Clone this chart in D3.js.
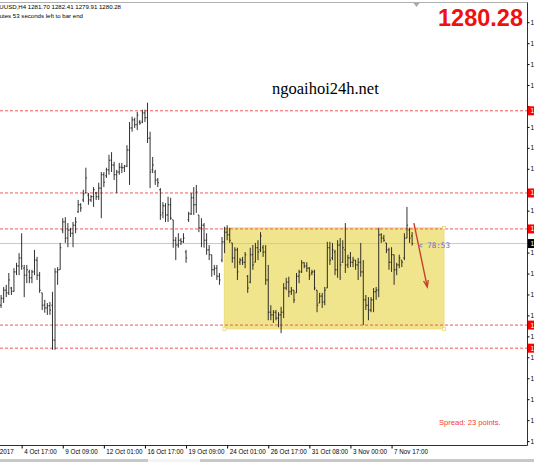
<!DOCTYPE html>
<html><head><meta charset="utf-8">
<script src="https://cdn.jsdelivr.net/npm/d3@7/dist/d3.min.js"></script>
<style>html,body{margin:0;padding:0;background:#fff;overflow:hidden}svg{display:block}</style>
</head><body><svg id="c" width="534" height="462"></svg>
<script>
// ---------- data (XAUUSD, H4) ----------
const opens=[1268.8,1270.1,1271.6,1271.1,1272.0,1271.4,1275.0,1276.1,1277.6,1275.7,
1274.4,1275.0,1273.9,1275.0,1277.2,1274.4,1271.1,1268.8,1268.3,1268.7,
1268.8,1262.3,1275.0,1275.4,1282.8,1284.3,1281.3,1282.8,1282.2,1283.7,
1286.2,1287.5,1288.4,1289.7,1289.3,1288.4,1289.0,1289.7,1289.0,1290.6,
1293.1,1292.9,1294.0,1295.8,1294.9,1293.1,1293.6,1294.5,1294.4,1294.7,
1297.7,1301.8,1303.3,1302.4,1302.9,1302.9,1304.6,1303.7,1299.9,1294.0,
1293.6,1292.1,1290.3,1286.0,1287.3,1285.6,1287.5,1284.7,1280.9,1280.0,
1280.9,1280.6,1278.7,1284.7,1285.8,1288.8,1287.5,1285.6,1283.2,1283.7,
1280.9,1279.1,1278.2,1275.4,1275.7,1274.2,1277.2,1280.6,1282.4,1281.9,
1280.4,1277.6,1279.1,1276.8,1277.2,1276.8,1274.2,1273.1,1278.2,1276.8,
1279.5,1279.1,1279.5,1278.7,1273.5,1267.5,1267.0,1267.5,1266.4,1267.0,
1267.5,1272.0,1273.1,1271.3,1271.6,1271.1,1274.2,1275.0,1276.7,1276.1,
1275.7,1274.8,1275.0,1271.6,1269.2,1270.5,1269.4,1272.0,1279.5,1277.6,
1278.7,1275.4,1280.0,1276.8,1279.1,1276.3,1277.6,1276.8,1277.2,1276.3,
1276.8,1275.0,1269.8,1268.8,1267.9,1269.8,1271.3,1271.6,1281.9,1281.3,
1280.4,1279.1,1276.8,1278.2,1275.4,1276.3,1277.2,1277.6,1281.3,1282.8,
1281.70];
const highs=[1270.7,1272.2,1272.6,1274.8,1272.2,1275.7,1276.7,1278.5,1282.2,1276.3,
1276.3,1275.4,1275.4,1279.1,1277.8,1275.0,1271.1,1269.8,1269.2,1269.4,
1271.3,1275.7,1275.9,1280.4,1285.0,1285.2,1284.1,1283.2,1284.3,1285.2,
1288.4,1287.8,1290.3,1294.4,1289.7,1289.3,1290.8,1289.9,1291.6,1293.6,
1293.6,1294.4,1296.8,1297.3,1295.5,1294.0,1295.3,1295.3,1294.9,1298.6,
1302.9,1303.9,1303.7,1304.8,1303.3,1305.2,1305.2,1306.5,1301.1,1296.4,
1294.0,1292.5,1290.6,1288.0,1287.8,1289.0,1288.8,1284.7,1281.5,1282.2,
1281.3,1282.2,1279.1,1286.2,1289.7,1290.8,1291.2,1285.6,1285.0,1284.1,
1282.2,1280.0,1278.2,1276.3,1276.3,1274.8,1281.5,1283.4,1283.7,1283.2,
1280.4,1279.6,1279.5,1277.6,1277.8,1278.7,1274.4,1279.5,1280.0,1280.4,
1280.9,1282.4,1280.0,1280.0,1276.3,1268.8,1267.9,1267.9,1267.5,1268.5,
1272.9,1273.9,1274.1,1272.2,1271.6,1274.8,1275.4,1277.2,1276.8,1276.8,
1275.9,1275.4,1275.4,1271.6,1271.1,1271.1,1272.2,1280.6,1280.6,1280.4,
1279.1,1280.9,1281.3,1280.9,1284.1,1278.2,1278.7,1277.8,1277.2,1277.6,
1280.4,1277.2,1270.7,1270.3,1270.3,1272.0,1272.2,1283.2,1282.2,1281.9,
1280.4,1279.5,1279.6,1278.2,1276.7,1278.2,1277.2,1282.2,1287.1,1283.2,
1282.41];
const lows=[1268.3,1269.2,1270.3,1270.7,1270.7,1271.3,1274.4,1274.4,1275.4,1270.3,
1272.9,1272.9,1272.9,1274.4,1273.5,1271.1,1267.9,1267.4,1267.0,1267.0,
1260.5,1260.5,1272.6,1275.4,1282.2,1280.4,1279.6,1281.5,1279.6,1282.2,
1286.0,1286.2,1288.0,1289.7,1287.5,1288.0,1287.1,1288.4,1288.4,1285.0,
1290.8,1292.5,1293.1,1293.6,1292.1,1289.7,1293.1,1293.4,1293.6,1294.5,
1291.2,1301.1,1301.8,1301.4,1302.4,1302.7,1302.9,1299.0,1290.6,1293.4,
1291.2,1290.8,1284.7,1285.0,1284.3,1284.3,1284.7,1279.5,1277.2,1279.5,
1280.0,1280.4,1276.7,1284.3,1285.6,1285.6,1286.0,1282.4,1279.6,1279.5,
1278.2,1277.2,1274.1,1274.4,1273.5,1272.6,1276.8,1278.5,1280.9,1280.4,
1276.7,1275.7,1273.5,1276.3,1276.3,1275.7,1271.1,1272.9,1275.4,1276.8,
1277.2,1278.7,1277.8,1272.6,1266.0,1266.0,1265.5,1266.0,1264.7,1263.6,
1266.4,1271.6,1270.3,1270.7,1269.2,1271.1,1272.9,1274.8,1275.7,1275.0,
1273.5,1274.4,1271.6,1267.5,1269.2,1268.3,1268.8,1272.0,1276.3,1277.2,
1274.4,1273.9,1273.5,1276.7,1274.8,1275.7,1275.9,1275.9,1275.4,1273.5,
1274.1,1265.1,1267.9,1266.0,1267.5,1267.5,1269.8,1270.3,1280.4,1280.6,
1278.5,1275.4,1275.0,1272.6,1274.4,1275.7,1275.9,1277.2,1281.3,1280.4,
1279.91];
const closes=[1270.1,1271.6,1271.1,1273.5,1271.4,1275.0,1276.1,1277.6,1276.1,1274.4,
1275.4,1273.9,1275.0,1277.2,1274.4,1271.6,1268.8,1268.3,1268.7,1267.9,
1262.3,1275.0,1275.4,1279.5,1284.3,1281.3,1282.8,1282.2,1283.7,1284.3,
1287.5,1286.9,1289.5,1292.5,1288.4,1289.0,1290.3,1289.0,1290.6,1293.1,
1291.7,1294.0,1295.8,1294.9,1293.1,1293.6,1294.5,1294.4,1294.7,1297.7,
1301.8,1303.3,1302.4,1304.2,1302.7,1304.6,1303.7,1299.9,1293.6,1294.9,
1292.1,1291.6,1285.6,1287.3,1285.6,1287.5,1285.0,1280.9,1280.0,1280.9,
1280.6,1281.3,1277.6,1285.8,1288.8,1287.5,1289.9,1283.2,1283.7,1280.9,
1279.1,1278.2,1275.4,1275.7,1274.2,1273.5,1280.6,1282.4,1281.9,1280.9,
1277.6,1279.1,1275.0,1277.2,1276.8,1278.2,1272.0,1278.2,1276.3,1279.5,
1278.7,1281.7,1278.7,1273.5,1267.5,1267.0,1267.5,1266.4,1267.0,1267.5,
1272.0,1273.1,1271.3,1271.6,1269.8,1274.2,1275.0,1276.7,1276.1,1275.7,
1274.4,1275.0,1272.0,1268.8,1270.5,1269.4,1271.6,1279.5,1277.2,1279.1,
1275.4,1280.0,1276.3,1279.5,1276.3,1277.6,1276.8,1277.2,1276.3,1276.8,
1275.0,1269.8,1268.8,1267.9,1269.8,1271.3,1271.6,1281.9,1281.3,1280.9,
1279.1,1276.8,1278.2,1275.4,1276.3,1277.6,1276.8,1281.3,1283.7,1281.3,
1280.28];
const timeLabels=["2 Oct 2017","4 Oct 17:00","9 Oct 09:00","12 Oct 01:00","16 Oct 17:00","19 Oct 09:00","24 Oct 01:00","26 Oct 17:00","31 Oct 08:00","3 Nov 00:00","7 Nov 17:00"];
const timeLabelBars=[-8,8,24,40,56,72,88,104,120,136,152];
const priceTicks=[1321.5,1317.6,1313.7,1309.8,1305.9,1302.0,1298.1,1294.2,1290.3,1286.4,1282.5,1278.6,1274.7,1270.8,1266.9,1263.0,1259.1,1255.2,1251.3,1247.4,1243.5];
const levels=[1305.0,1289.7,1283.0,1265.1,1260.8];
const lastPrice=1280.28;
const boxBars=[86.9,172.4], boxPrices=[1283.2,1264.4];
const arrowBars=[160.7,165.9], arrowPrices=[1284.1,1272.2];
const symbolInfo="XAUUSD,H4  1281.70 1282.41 1279.91 1280.28";
const timerInfo="78 minutes 53 seconds left to bar end";
const countdown="< 78:53";
const spreadText="Spread: 23 points.";
const watermark="ngoaihoi24h.net";

// ---------- layout ----------
const plotR=527.5, plotB=445.5, plotT=2.5;
const svg=d3.select("#c");
const x=d3.scaleLinear().domain([0,160]).range([1.1,412.1]);
const y=d3.scaleLinear().domain([1260.46,1307.01]).range([350,100]);
const font="'Liberation Sans', Arial, sans-serif";

svg.append("rect").attr("width",534).attr("height",462).attr("fill","#fff");
svg.append("defs").append("clipPath").attr("id","pc")
  .append("rect").attr("x",0).attr("y",plotT).attr("width",plotR).attr("height",plotB-plotT);
const g=svg.append("g").attr("clip-path","url(#pc)");

// yellow range box
const bx0=x(boxBars[0]), bx1=x(boxBars[1]), by0=y(boxPrices[0]), by1=y(boxPrices[1]);
g.append("rect").attr("x",bx0).attr("y",by0).attr("width",bx1-bx0).attr("height",by1-by0)
  .attr("fill","#f0e48c").attr("stroke","#ecdc78").attr("stroke-width",1);

// current price line
g.append("line").attr("x1",0).attr("x2",plotR).attr("y1",y(lastPrice)).attr("y2",y(lastPrice))
  .attr("stroke","#c8c8c8").attr("stroke-width",1);

// horizontal levels
g.selectAll("line.lvl").data(levels).join("line").attr("class","lvl")
  .attr("x1",0).attr("x2",plotR).attr("y1",d=>y(d)).attr("y2",d=>y(d))
  .attr("stroke","#f05a5a").attr("stroke-width",1).attr("stroke-dasharray","3,2");

// OHLC bars
const idx=d3.range(opens.length);
g.selectAll("path.bar").data(idx).join("path").attr("class","bar")
  .attr("d",i=>{const xi=x(i);return `M${xi},${y(highs[i])}V${y(lows[i])}M${xi-1.1},${y(opens[i])}H${xi}M${xi},${y(closes[i])}H${xi+1.1}`;})
  .attr("fill","none").attr("stroke","#1c1c1c").attr("stroke-width",0.9);

// box handles
[[bx0,by1],[bx1,by0],[bx1,by1]].forEach(p=>{
  g.append("rect").attr("x",p[0]-1.5).attr("y",p[1]-1.5).attr("width",3).attr("height",3)
   .attr("fill","#fff").attr("stroke","#e8d870").attr("stroke-width",0.8);
});

// arrow
const ax0=x(arrowBars[0]), ay0=y(arrowPrices[0]), ax1=x(arrowBars[1]), ay1=y(arrowPrices[1]);
g.append("line").attr("x1",ax0).attr("y1",ay0).attr("x2",ax1).attr("y2",ay1)
  .attr("stroke","#c8402c").attr("stroke-width",1.4);
{
  const ang=Math.atan2(ay1-ay0,ax1-ax0), L=7, w=0.35;
  const p1=[ax1-L*Math.cos(ang-w),ay1-L*Math.sin(ang-w)], p2=[ax1-L*Math.cos(ang+w),ay1-L*Math.sin(ang+w)];
  g.append("path").attr("d",`M${p1}L${ax1},${ay1}L${p2}`).attr("fill","none")
   .attr("stroke","#c8402c").attr("stroke-width",1.4);
}

// countdown label
g.append("text").attr("x",418).attr("y",y(lastPrice)+4).text(countdown)
  .attr("font-family","'DejaVu Sans Mono', monospace").attr("font-size",7.6).attr("fill","#6c6cc8");

// frame
svg.append("line").attr("x1",0).attr("x2",plotR).attr("y1",plotT).attr("y2",plotT).attr("stroke","#b0b0b0");
svg.append("line").attr("x1",plotR).attr("x2",plotR).attr("y1",plotT).attr("y2",plotB).attr("stroke","#303030");
svg.append("line").attr("x1",0).attr("x2",plotR).attr("y1",plotB).attr("y2",plotB).attr("stroke","#303030");

// price axis (right); labels hidden where a level tag covers them
const tagPrices=levels.concat([lastPrice]);
const yAxis=d3.axisRight(y).tickValues(priceTicks).tickFormat(d3.format(".2f")).tickSize(2).tickSizeOuter(0);
const ya=svg.append("g").attr("transform",`translate(${plotR},0)`).call(yAxis);
ya.select(".domain").remove();
ya.selectAll("text").attr("x",3).attr("font-family",font).attr("font-size",6.5).attr("fill","#000");
ya.selectAll("line").attr("stroke","#000");
ya.selectAll(".tick").filter(d=>tagPrices.some(t=>Math.abs(y(t)-y(d))<9)).select("text").remove();

// level tags on price axis
const tags=svg.append("g");
levels.forEach(v=>{
  tags.append("rect").attr("x",plotR+0.5).attr("y",y(v)-4.5).attr("width",10).attr("height",9).attr("fill","#f00");
  tags.append("text").attr("x",plotR+3).attr("y",y(v)+2.5).text(v.toFixed(2)).attr("font-family",font).attr("font-size",6.5).attr("fill","#fff");
});
tags.append("rect").attr("x",plotR+0.5).attr("y",y(lastPrice)-4.5).attr("width",10).attr("height",9).attr("fill","#000");
tags.append("text").attr("x",plotR+3).attr("y",y(lastPrice)+2.5).text(lastPrice.toFixed(2)).attr("font-family",font).attr("font-size",6.5).attr("fill","#fff");

// time axis (bottom)
const xAxis=d3.axisBottom(x).tickValues(timeLabelBars).tickFormat((d,i)=>timeLabels[i]).tickSize(3).tickSizeOuter(0);
const xa=svg.append("g").attr("transform",`translate(0,${plotB})`).call(xAxis);
xa.select(".domain").remove();
xa.selectAll("line").attr("stroke","#000");
xa.selectAll("text").attr("text-anchor","start").attr("dx",2).attr("y",4).attr("dy","0.71em")
  .attr("font-family",font).attr("font-size",6.3).attr("fill","#000");

// bottom tab strip
svg.append("rect").attr("x",0).attr("y",459).attr("width",534).attr("height",3).attr("fill","#c8c8c8");
svg.append("rect").attr("x",148).attr("y",459).attr("width",52).attr("height",3).attr("fill","#f4f4f4");

// chart-shift marker
svg.append("path").attr("d","M413.5,3L419.5,3L416.5,7Z").attr("fill","#a8a8a8");

// top-left info
svg.append("text").attr("x",121).attr("y",9).attr("text-anchor","end").text(symbolInfo)
  .attr("font-family",font).attr("font-size",6.1).attr("fill","#000");
svg.append("text").attr("x",83).attr("y",18).attr("text-anchor","end").text(timerInfo)
  .attr("font-family",font).attr("font-size",6.1).attr("fill","#000");

// big price
svg.append("text").attr("x",523).attr("y",26).attr("text-anchor","end").text(lastPrice.toFixed(2))
  .attr("font-family",font).attr("font-weight","bold").attr("font-size",23.5).attr("fill","#f01010");

// watermark
svg.append("text").attr("x",272).attr("y",94).text(watermark)
  .attr("font-family","'Liberation Serif','Times New Roman',serif").attr("font-size",16.5).attr("fill","#000");

// spread
svg.append("text").attr("x",439).attr("y",425).text(spreadText)
  .attr("font-family",font).attr("font-size",7.6).attr("fill","#f03c3c");
</script></body></html>
